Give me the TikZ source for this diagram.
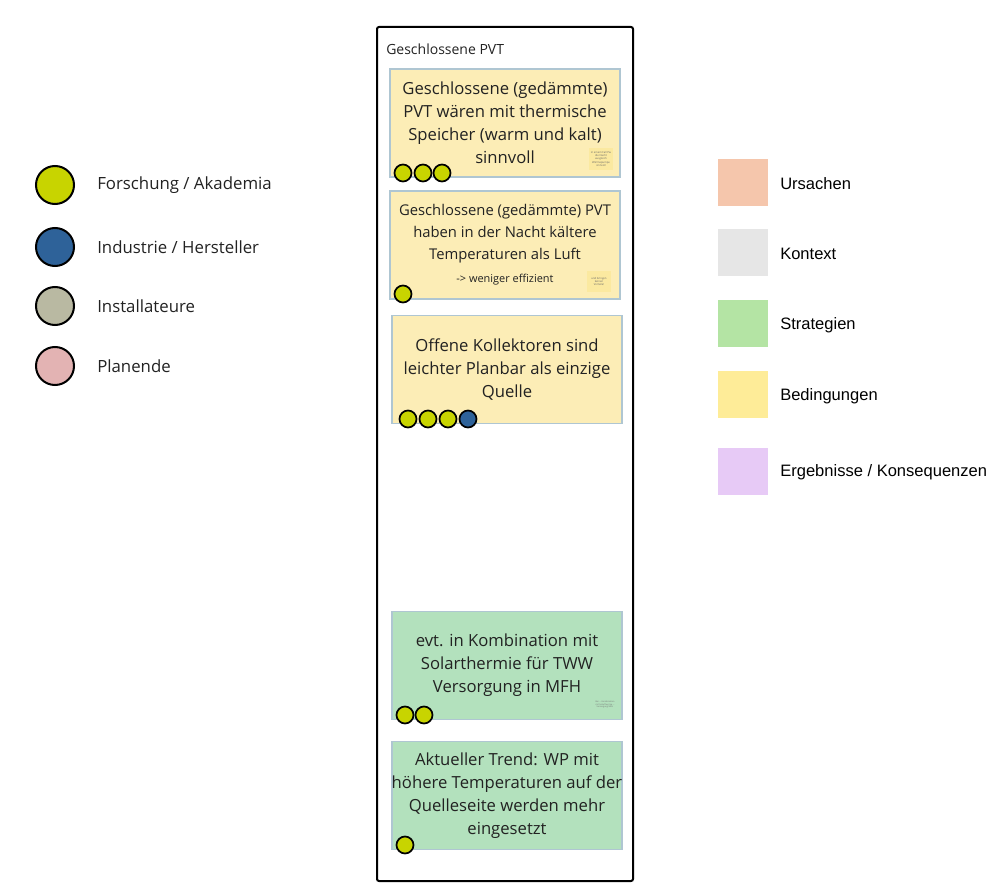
\documentclass[tikz,border=0pt]{standalone}
\usepackage{fontspec}
\setmainfont{Open Sans}
\newfontfamily\arialf{Liberation Sans}
\definecolor{cYel}{HTML}{C8D400}
\definecolor{cBlue}{HTML}{2E6299}
\definecolor{cBeige}{HTML}{B9B9A2}
\definecolor{cPink}{HTML}{E3B3B3}
\definecolor{noteY}{HTML}{FCEDB6}
\definecolor{noteG}{HTML}{B3E1BD}
\definecolor{noteBd}{HTML}{AFC6D2}
\definecolor{tinyY}{HTML}{FBE9A0}
\definecolor{lUrs}{HTML}{F5C6AC}
\definecolor{lKon}{HTML}{E6E6E6}
\definecolor{lStr}{HTML}{B4E4A4}
\definecolor{lBed}{HTML}{FEEC98}
\definecolor{lErg}{HTML}{E7CAF6}
\definecolor{txt}{HTML}{222222}
\begin{document}
\begin{tikzpicture}[x=0.75pt,y=-0.75pt,
  every node/.style={text=txt},
  frame/.style={draw=black, line width=1.5pt, rounded corners=1.5pt, inner sep=0pt,
    minimum width=192pt, minimum height=640.5pt},
  note/.style={draw=noteBd, line width=1.2pt, inner sep=0pt,
    minimum width=172.5pt, minimum height=81pt, align=center,
    font=\fontsize{12.5}{17.25}\selectfont},
  noteyel/.style={note, fill=noteY},
  notegrn/.style={note, fill=noteG},
  dot/.style={circle, draw=black, line width=1.3pt, inner sep=0pt, minimum size=12.75pt},
  ldot/.style={circle, draw=black, line width=1.5pt, inner sep=0pt, minimum size=28.5pt},
  ltxt/.style={anchor=west, inner sep=0pt, font=\fontsize{12.6}{14}\selectfont},
  lsq/.style={inner sep=0pt, minimum width=37.5pt, minimum height=35.25pt},
  rtxt/.style={anchor=west, inner sep=0pt, text=black, font=\arialf\fontsize{12.4}{14}\selectfont},
  tinynote/.style={fill=tinyY, inner sep=0pt, minimum width=18pt, minimum height=16pt, align=center,
    text=black!60, font=\fontsize{2}{2.4}\selectfont}
]
\useasboundingbox (0,0) rectangle (1002,888);

% container
\node[frame] (frm) at (505,454) {};
\node[anchor=west, inner sep=0pt, font=\fontsize{10.5}{12}\selectfont] (ttl) at (386,49) {Geschlossene PVT};

% note 1
\node[noteyel] (n1) at (505,123) {Geschlossene (gedämmte)\\PVT wären mit thermische\\Speicher (warm und kalt)\\sinnvoll};
\node[tinynote] (t1) at (601,159) {in einem Fall Pw\\die Nacht\\ausgleich\\Wärmepumpe\\sinnvoll};
\node[dot, fill=cYel] (d11) at (403,173) {};
\node[dot, fill=cYel] (d12) at (423,173) {};
\node[dot, fill=cYel] (d13) at (442,173) {};

% note 2
\node[noteyel, font=\fontsize{11.1}{16.5}\selectfont] (n2) at (505,245) {Geschlossene (gedämmte) PVT\\haben in der Nacht kältere\\Temperaturen als Luft\\[1pt]{\fontsize{8.2}{10}\selectfont -> weniger effizient}};
\node[tinynote] (t2) at (599,281.5) {und bringen\\keinen\\Vorteile!};
\node[dot, fill=cYel] (d21) at (403,294) {};

% note 3
\node[noteyel] (n3) at (507,369.5) {Offene Kollektoren sind\\leichter Planbar als einzige\\Quelle};
\node[dot, fill=cYel] (d31) at (408,419) {};
\node[dot, fill=cYel] (d32) at (428,419) {};
\node[dot, fill=cYel] (d33) at (448,419) {};
\node[dot, fill=cBlue] (d34) at (468,419) {};

% note 4
\node[notegrn] (n4) at (507,665.5) {evt. in Kombination mit\\Solarthermie für TWW\\Versorgung in MFH};
\node[inner sep=0pt, align=center, text=black!55, font=\fontsize{1.6}{2.2}\selectfont] (t4) at (605,704.5) {Bei ... Kombination\\mit Solarthermie ...\\Versorgung MFH};
\node[dot, fill=cYel] (d41) at (405,715) {};
\node[dot, fill=cYel] (d42) at (424,715) {};

% note 5
\node[notegrn] (n5) at (507,795.5) {Aktueller Trend: WP mit\\höhere Temperaturen auf der\\Quelleseite werden mehr\\eingesetzt};
\node[dot, fill=cYel] (d51) at (405,845) {};

% left legend
\node[ldot, fill=cYel] (la) at (55,185) {};
\node[ltxt] (lat) at (97,185) {Forschung / Akademia};
\node[ldot, fill=cBlue] (lb) at (55,247) {};
\node[ltxt] (lbt) at (97,247) {Industrie / Hersteller};
\node[ldot, fill=cBeige] (lc) at (55,306) {};
\node[ltxt] (lct) at (97,306) {Installateure};
\node[ldot, fill=cPink] (ld) at (55,366) {};
\node[ltxt] (ldt) at (97,366) {Planende};

% right legend
\node[lsq, fill=lUrs] (ra) at (743,182.5) {};
\node[rtxt] (rat) at (780,184) {Ursachen};
\node[lsq, fill=lKon] (rb) at (743,252.5) {};
\node[rtxt] (rbt) at (780,254) {Kontext};
\node[lsq, fill=lStr] (rc) at (743,323.5) {};
\node[rtxt] (rct) at (780,325) {Strategien};
\node[lsq, fill=lBed] (rd) at (743,394.5) {};
\node[rtxt] (rdt) at (780,396) {Bedingungen};
\node[lsq, fill=lErg] (re) at (743,471.5) {};
\node[rtxt] (ret) at (780,472) {Ergebnisse / Konsequenzen};
\end{tikzpicture}
\end{document}
